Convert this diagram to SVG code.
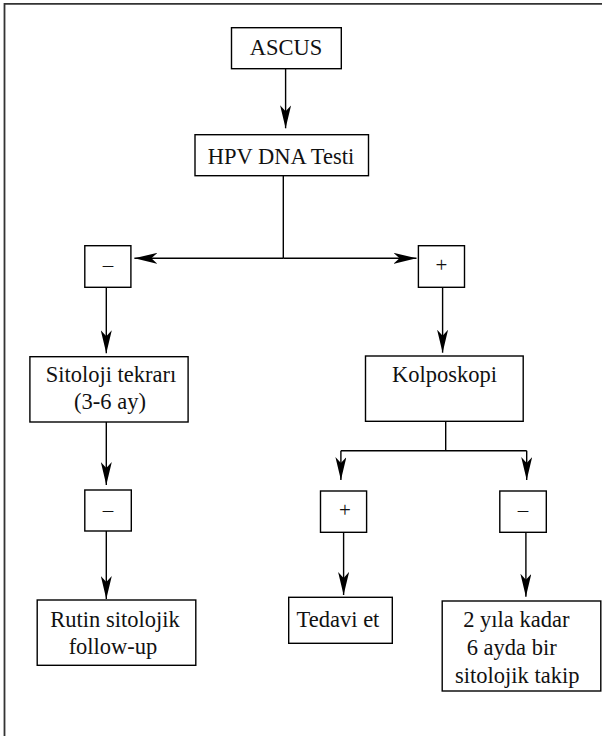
<svg xmlns="http://www.w3.org/2000/svg" width="602" height="736" viewBox="0 0 602 736">
<style>
.box{fill:#fff;stroke:#000;stroke-width:1.4}
.ln{fill:none;stroke:#000;stroke-width:1.4}
.t{font-family:"Liberation Serif","Times New Roman",serif;font-size:22.5px;fill:#111;text-anchor:middle}
.s{font-family:"Liberation Serif","Times New Roman",serif;font-size:21px;fill:#111;text-anchor:middle}
</style>
<defs>
<marker id="ah" viewBox="0 0 23 11" refX="23" refY="5.5" markerWidth="23" markerHeight="11" markerUnits="userSpaceOnUse" orient="auto">
<path d="M0,0 L23,5.5 L0,11 L6,5.5 Z" fill="#000"/>
</marker>
</defs>
<rect width="602" height="736" fill="#fff"/>
<path d="M4.5,740 V3.8 H610" fill="none" stroke="#333" stroke-width="1.8"/>
<g id="connectors">
<line class="ln" x1="285.6" y1="68.7" x2="285.6" y2="128.3" marker-end="url(#ah)"/>
<line class="ln" x1="283.3" y1="175.7" x2="283.3" y2="258.3"/>
<line class="ln" x1="283.3" y1="258.3" x2="134.4" y2="258.3" marker-end="url(#ah)"/>
<line class="ln" x1="283.3" y1="258.3" x2="416.5" y2="258.3" marker-end="url(#ah)"/>
<line class="ln" x1="106.3" y1="287.3" x2="106.3" y2="353.3" marker-end="url(#ah)"/>
<line class="ln" x1="442.6" y1="287.3" x2="442.6" y2="352.7" marker-end="url(#ah)"/>
<line class="ln" x1="106.3" y1="422" x2="106.3" y2="485" marker-end="url(#ah)"/>
<line class="ln" x1="445.7" y1="421.3" x2="445.7" y2="450.7"/>
<line class="ln" x1="340.9" y1="450.7" x2="526.7" y2="450.7"/>
<line class="ln" x1="340.9" y1="450.7" x2="340.9" y2="480" marker-end="url(#ah)"/>
<line class="ln" x1="526.7" y1="450.7" x2="526.7" y2="480" marker-end="url(#ah)"/>
<line class="ln" x1="106.3" y1="531" x2="106.3" y2="599" marker-end="url(#ah)"/>
<line class="ln" x1="343.6" y1="532.3" x2="343.6" y2="595" marker-end="url(#ah)"/>
<line class="ln" x1="525.9" y1="532.3" x2="525.9" y2="596.7" marker-end="url(#ah)"/>
</g>
<g id="ascus">
<rect class="box" x="231.5" y="27.7" width="109.8" height="41"/>
<text class="t" x="286" y="55">ASCUS</text>
</g>
<g id="hpv">
<rect class="box" x="195" y="134.7" width="173.5" height="41"/>
<text class="t" x="281" y="164">HPV DNA Testi</text>
</g>
<g id="neg1">
<rect class="box" x="84.8" y="245.7" width="46.1" height="41.6"/>
<text class="s" x="108" y="272">–</text>
</g>
<g id="pos1">
<rect class="box" x="418.4" y="245.7" width="46.1" height="41.6"/>
<text class="s" x="441.5" y="272">+</text>
</g>
<g id="sitoloji">
<rect class="box" x="29.9" y="356.7" width="158.2" height="65.3"/>
<text class="t" x="111" y="382">Sitoloji tekrarı</text>
<text class="t" x="110" y="408.5">(3-6 ay)</text>
</g>
<g id="kolposkopi">
<rect class="box" x="365.5" y="356" width="157.7" height="65.3"/>
<text class="t" x="444.4" y="382">Kolposkopi</text>
</g>
<g id="neg2">
<rect class="box" x="84.8" y="490" width="46.5" height="41"/>
<text class="s" x="108" y="517">–</text>
</g>
<g id="pos2">
<rect class="box" x="320.5" y="491" width="46.1" height="41.3"/>
<text class="s" x="345" y="517">+</text>
</g>
<g id="neg3">
<rect class="box" x="499.8" y="491" width="46.5" height="41.3"/>
<text class="s" x="523" y="517">–</text>
</g>
<g id="rutin">
<rect class="box" x="37.2" y="600" width="158.6" height="65.3"/>
<text class="t" x="115" y="627">Rutin sitolojik</text>
<text class="t" x="113" y="654">follow-up</text>
</g>
<g id="tedavi">
<rect class="box" x="288.7" y="597.3" width="103.6" height="46"/>
<text class="t" x="338" y="627">Tedavi et</text>
</g>
<g id="takip">
<rect class="box" x="442.2" y="601" width="158.6" height="90"/>
<text class="t" x="516.3" y="627">2 yıla kadar</text>
<text class="t" x="511.7" y="655">6 ayda bir</text>
<text class="t" x="517.3" y="683">sitolojik takip</text>
</g>
</svg>
